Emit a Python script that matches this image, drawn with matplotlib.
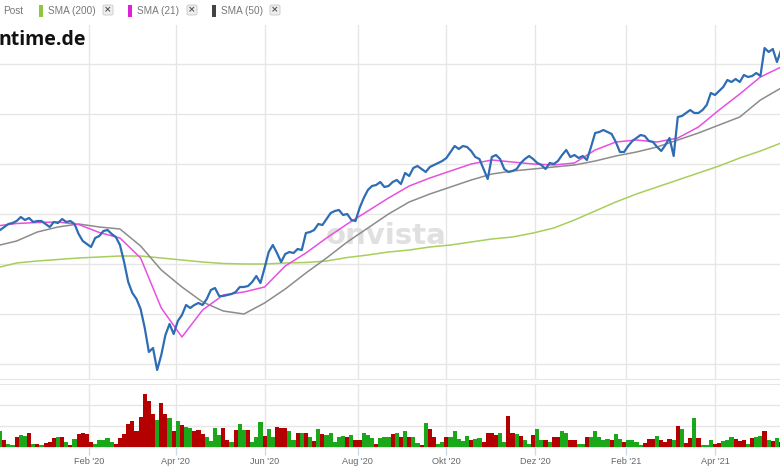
import matplotlib.pyplot as plt
import matplotlib.patches as mpatches
import numpy as np
import pandas as pd

# closing price, every 2nd trading day starting 2 Dec 2019
close = [96.6, 96.8, 97.4, 98.0, 98.2, 98.6, 99.4, 98.8, 99.2, 98.4,
         98.6, 98.6, 98.0, 97.4, 98.4, 98.2, 99.0, 98.4, 98.6, 98.0,
         96.0, 94.6, 94.0, 93.4, 95.2, 95.6, 96.6, 96.8, 96.0, 95.4,
         93.8, 90.4, 86.4, 84.2, 83.0, 81.0, 77.2, 72.4, 73.2, 68.8,
         71.8, 75.8, 78.0, 76.0, 78.6, 79.8, 81.8, 81.2, 81.8, 82.2,
         81.8, 83.0, 84.8, 85.2, 83.6, 83.6, 83.8, 84.0, 84.4, 85.4,
         85.4, 85.6, 86.4, 87.6, 86.2, 89.2, 92.4, 93.8, 92.2, 90.4,
         92.0, 92.4, 92.2, 93.0, 92.8, 96.2, 96.4, 96.8, 98.0, 97.8,
         99.0, 100.2, 100.6, 100.8, 99.8, 100.0, 98.8, 98.6, 101.2, 103.2,
         104.8, 105.6, 105.8, 106.4, 105.4, 105.6, 106.4, 106.8, 106.0, 108.2,
         107.6, 109.2, 109.6, 109.0, 108.4, 109.4, 109.8, 110.2, 110.6, 111.2,
         112.4, 113.6, 113.0, 113.6, 113.4, 112.6, 111.4, 111.0, 109.0, 107.0,
         111.4, 111.8, 111.0, 109.0, 108.4, 108.6, 109.0, 110.2, 111.0, 111.6,
         111.0, 110.2, 109.8, 109.0, 110.2, 110.0, 110.6, 111.8, 112.8, 111.4,
         111.8, 111.2, 111.6, 110.8, 113.4, 116.2, 116.4, 116.8, 116.4, 116.0,
         114.4, 112.4, 112.4, 113.6, 114.6, 115.2, 115.8, 115.6, 114.6, 114.4,
         113.4, 112.6, 113.8, 115.2, 111.6, 119.4, 119.6, 120.2, 120.8, 120.2,
         120.2, 120.8, 121.8, 124.2, 123.8, 124.6, 125.4, 126.8, 126.4, 127.0,
         126.4, 127.8, 127.4, 127.6, 128.2, 127.6, 133.2, 132.4, 133.0, 130.4,
         132.8]

volume = [0.70, 0.74, 0.34, 0.15, 0.08, 0.49, 0.55, 0.52, 0.65, 0.15,
          0.12, 0.08, 0.18, 0.23, 0.43, 0.46, 0.46, 0.25, 0.08, 0.38,
          0.60, 0.65, 0.60, 0.23, 0.15, 0.34, 0.31, 0.43, 0.23, 0.15,
          0.43, 0.62, 1.08, 1.23, 0.77, 1.42, 2.54, 2.20, 1.55, 1.30,
          2.08, 1.55, 1.40, 0.77, 1.26, 1.05, 0.95, 0.92, 0.77, 0.80,
          0.62, 0.49, 0.28, 0.89, 0.58, 0.89, 0.34, 0.23, 0.80, 1.08,
          0.80, 0.80, 0.23, 0.49, 1.20, 0.54, 0.85, 0.46, 0.95, 0.92,
          0.89, 0.74, 0.35, 0.69, 0.65, 0.69, 0.46, 0.28, 0.85, 0.62,
          0.58, 0.69, 0.23, 0.46, 0.54, 0.46, 0.58, 0.31, 0.31, 0.65,
          0.58, 0.43, 0.15, 0.43, 0.46, 0.49, 0.62, 0.65, 0.49, 0.77,
          0.49, 0.46, 0.18, 0.08, 1.15, 0.85, 0.46, 0.15, 0.23, 0.49,
          0.46, 0.77, 0.38, 0.28, 0.54, 0.31, 0.38, 0.43, 0.23, 0.69,
          0.65, 0.58, 0.69, 0.23, 1.46, 0.65, 0.62, 0.54, 0.31, 0.15,
          0.58, 0.85, 0.35, 0.31, 0.23, 0.49, 0.49, 0.77, 0.69, 0.34,
          0.34, 0.15, 0.15, 0.46, 0.49, 0.77, 0.46, 0.31, 0.38, 0.34,
          0.62, 0.38, 0.23, 0.31, 0.31, 0.23, 0.08, 0.18, 0.38, 0.38,
          0.54, 0.31, 0.23, 0.38, 0.34, 1.00, 0.85, 0.18, 0.43, 1.38,
          0.43, 0.08, 0.08, 0.31, 0.15, 0.18, 0.28, 0.34, 0.49, 0.38,
          0.28, 0.31, 0.12, 0.43, 0.49, 0.54, 0.74, 0.34, 0.28, 0.43,
          0.23]

# g = up day, r = down day (one letter per volume bar)
vol_dir = ("ggrggrggrg" "rgrrrgrgrg" "rrrrgggggr" "rrrrrrrrrg"
           "rrgrgrggrr" "rggggrrgrg" "grgggrggrr" "rggrgrgrgr"
           "gggggrgrrg" "ggrgggrgrg" "rggrgrrggr" "gggggrggrr"
           "rrggrrgrgg" "rggrgrrggr" "rggrgggggr" "ggrggggrrr"
           "grrrgrgrrg" "rgggrrgggr" "rrgrggrgrgr")

# moving averages, every 10th trading day
sma21 = [97.6, 98.1, 98.3, 98.4, 97.9, 96.3, 95.2, 91.2, 81.2, 75.4,
         80.8, 83.8, 84.4, 85.4, 89.6, 92.2, 95.2, 98.0, 100.6, 103.2,
         105.6, 107.2, 108.6, 110.0, 110.8, 110.4, 110.0, 109.8, 110.2, 112.8,
         114.4, 114.8, 114.4, 115.2, 117.4, 120.8, 124.0, 127.4, 129.4]
sma50 = [93.6, 94.6, 96.4, 97.4, 98.0, 97.4, 97.0, 93.6, 88.8, 85.4,
         82.4, 80.6, 80.0, 82.2, 85.0, 88.2, 91.2, 94.4, 97.2, 100.0,
         102.4, 104.0, 105.4, 106.8, 108.0, 108.6, 109.0, 109.4, 109.8, 110.6,
         111.6, 112.4, 113.4, 114.8, 116.2, 117.8, 119.4, 122.8, 125.2]
sma200 = [89.2, 90.2, 90.6, 90.9, 91.2, 91.4, 91.6, 91.6, 91.2, 90.8,
          90.4, 90.1, 90.0, 90.0, 90.2, 90.3, 90.6, 91.3, 91.8, 92.4,
          92.8, 93.4, 93.8, 94.4, 95.0, 95.4, 96.2, 97.2, 98.8, 100.6,
          102.4, 104.0, 105.4, 106.8, 108.2, 109.6, 111.2, 112.6, 114.2]

tick_dates = ['2020-02-03', '2020-04-01', '2020-06-01', '2020-08-03',
              '2020-10-01', '2020-12-01', '2021-02-01', '2021-04-01']
tick_labels = ["Feb '20", "Apr '20", "Jun '20", "Aug '20",
               "Okt '20", "Dez '20", "Feb '21", "Apr '21"]

days = pd.bdate_range('2019-12-02', periods=2 * len(close) - 1)
pos = np.arange(len(days))
x_close = pos[::2]
x_sma = pos[::10]
ticks = days.get_indexer(pd.to_datetime(tick_dates))

vol_colors = ['#1aa81a' if c == 'g' else '#b40000' for c in vol_dir]

W, H = 780, 470
fig = plt.figure(figsize=(W / 100, H / 100), dpi=100)
fig.patch.set_facecolor('white')

# pixel layout
ppd = 2.066
x0 = -4
xlim = ((0 - x0) / ppd, (W - x0) / ppd)

ax = fig.add_axes([0, 1 - 379 / H, 1, (379 - 25) / H])
axv = fig.add_axes([0, 1 - 447 / H, 1, (447 - 384) / H])

grid_c = '#e6e6e6'

ax.set_xlim(xlim)
ax.set_ylim(67, 137.8)
ax.set_yticks(np.arange(70, 131, 10))
ax.set_xticks(ticks)
ax.grid(True, color=grid_c, lw=1)
ax.set_axisbelow(True)
ax.tick_params(length=0, labelbottom=False, labelleft=False)
for s in ['top', 'left', 'right']:
    ax.spines[s].set_visible(False)
ax.spines['bottom'].set_color(grid_c)

ax.text(0.495, 0.405, 'onvista', transform=ax.transAxes, fontsize=21,
        fontweight='bold', color='#e0e0e0', ha='center', va='center', zorder=1,
        family='DejaVu Sans')

ax.plot(x_sma, sma200, color='#a6cf5b', lw=1.1, zorder=3)
ax.plot(x_sma, sma50, color='#8c8c8c', lw=1.1, zorder=3)
ax.plot(x_sma, sma21, color='#e84fe0', lw=1.1, zorder=4)
ax.plot(x_close, close, color='#2e6db4', lw=1.6, zorder=5)

axv.set_xlim(xlim)
axv.set_ylim(0, 3)
axv.set_yticks([1, 2])
axv.set_xticks(ticks)
axv.set_xticklabels(tick_labels)
axv.grid(True, color=grid_c, lw=1)
axv.set_axisbelow(True)
axv.bar(x_close, volume, width=2.0, color=vol_colors, linewidth=0, zorder=3)
axv.tick_params(axis='y', length=0, labelleft=False)
axv.tick_params(axis='x', length=6, width=1, color='#cddbe8', pad=1.5,
                labelsize=6.6, labelcolor='#666666')
for lab in axv.get_xticklabels():
    lab.set_family('Liberation Sans')
for s in ['left', 'right']:
    axv.spines[s].set_visible(False)
axv.spines['top'].set_color(grid_c)
axv.spines['bottom'].set_color(grid_c)


# header with legend entries
def fx(px):
    return px / W


def fy(py):
    return 1 - py / H


fig.text(fx(3), fy(10.5), 'Post', fontsize=7.2, color='#777777', va='center',
         family='Liberation Sans')
legend = [(39, '#8dc63f', 'SMA (200)', 103), (128, '#e020d8', 'SMA (21)', 187),
          (212, '#444444', 'SMA (50)', 270)]
for lx, col, name, bx in legend:
    fig.add_artist(mpatches.Rectangle((fx(lx), fy(17)), 4 / W, 12 / H,
                                      transform=fig.transFigure, color=col, lw=0))
    fig.text(fx(lx + 9), fy(10.5), name, fontsize=7.2, color='#777777',
             va='center', family='Liberation Sans')
    fig.add_artist(mpatches.FancyBboxPatch((fx(bx), fy(15)), 10 / W, 10 / H,
                                           boxstyle='round,pad=0,rounding_size=0.003',
                                           transform=fig.transFigure,
                                           fc='#eeeeee', ec='#c8c8c8', lw=0.6))
    fig.text(fx(bx + 5), fy(10), '\u00d7', fontsize=6.5, color='#555555',
             ha='center', va='center', fontweight='bold')

fig.text(fx(-1), fy(45), 'ntime.de', fontsize=14, fontweight='bold',
         color='#111111', va='baseline', family='Open Sans')

fig.savefig('out.png', dpi=100)
